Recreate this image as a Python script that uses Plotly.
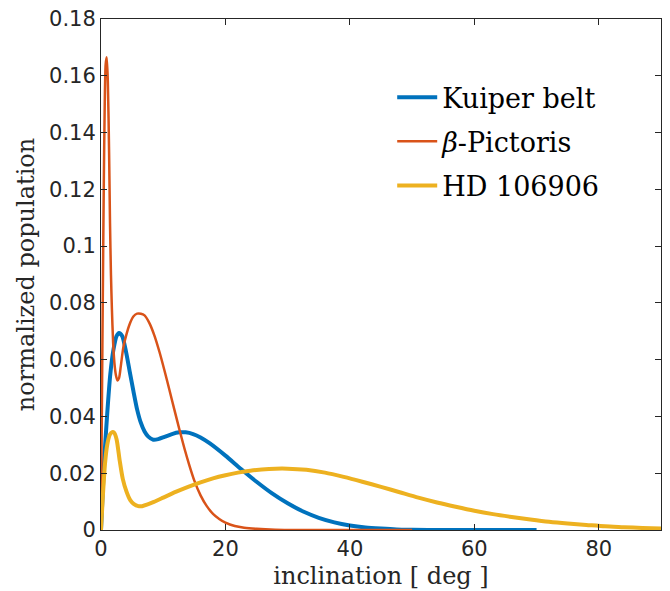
import plotly.graph_objects as go

# ---- data ----
kuiper_x = [0, 0.5, 1.0, 1.5, 2.0, 2.5, 2.9, 3.4, 4.0, 4.6, 5.2, 5.8, 6.4, 7.0, 7.6, 8.4, 9.2, 10.2, 11.4,
            12.6, 13.6, 14.8, 16.0, 17.5, 20.0, 22.5, 25.0, 27.5, 30.0, 32.5, 35.0, 37.5, 40.0, 42.5,
            45.0, 47.5, 50.0, 55.0, 60.0, 65.0, 70.0]
kuiper_y = [0, 0.024, 0.041, 0.055, 0.0635, 0.0683, 0.0694, 0.0683, 0.0630, 0.0560, 0.0490, 0.0425, 0.0378,
            0.0347, 0.0329, 0.0318, 0.0320, 0.0328, 0.0338, 0.0344, 0.0344, 0.0338, 0.0326, 0.0305, 0.0262,
            0.0215, 0.0170, 0.0129, 0.0094, 0.0065, 0.0043, 0.0027, 0.0016, 0.0009, 0.0005, 0.0002,
            0.0001, 0, 0, 0, 0]

pictoris_x = [0, 0.15, 0.3, 0.45, 0.6, 0.75, 0.92, 1.1, 1.3, 1.45, 1.6, 1.75, 1.95, 2.15, 2.4, 2.65, 2.9,
              3.2, 3.6, 4.1, 4.6, 5.2, 5.8, 6.4, 7.0, 7.8, 8.6, 9.4, 10.2, 11.0, 11.8, 12.6, 13.4, 14.2,
              15.0, 16.0, 17.0, 18.0, 19.0, 20.0, 21.5, 23.0, 25.0, 28.0, 32.0, 40.0, 50.0]
pictoris_y = [0.005, 0.045, 0.085, 0.122, 0.150, 0.164, 0.1665, 0.158, 0.133, 0.108, 0.090, 0.078, 0.066,
              0.059, 0.0545, 0.0527, 0.0535, 0.058, 0.0645, 0.069, 0.0725, 0.0752, 0.0762, 0.0762, 0.0756,
              0.0728, 0.0684, 0.0627, 0.0562, 0.0493, 0.0423, 0.0354, 0.0288, 0.0228, 0.0174, 0.0122,
              0.0084, 0.0057, 0.0039, 0.0026, 0.0014, 0.0008, 0.0004, 0.0001, 0, 0, 0]

hd_x = [0, 0.3, 0.65, 1.0, 1.4, 1.8, 2.1, 2.5, 3.0, 3.5, 4.1, 4.7, 5.3, 6.0, 6.6, 7.5, 8.5, 10.0, 12.0,
        14.0, 16.0, 18.0, 20.0, 22.0, 24.0, 27.0, 30.0, 33.0, 36.0, 39.0, 42.0, 45.0, 48.0, 51.0, 54.0,
        57.0, 60.0, 63.0, 66.0, 69.0, 72.0, 75.0, 78.0, 81.0, 84.0, 87.0, 90.0]
hd_y = [0, 0.012, 0.0235, 0.030, 0.0335, 0.0345, 0.0343, 0.032, 0.0245, 0.018, 0.0135, 0.0105, 0.0091,
        0.0084, 0.0084, 0.0090, 0.0099, 0.0114, 0.0134, 0.0152, 0.0168, 0.0182, 0.0193, 0.0202, 0.0209,
        0.0215, 0.0216, 0.0212, 0.0202, 0.0187, 0.0170, 0.0152, 0.0133, 0.0114, 0.0097, 0.0082, 0.0068,
        0.0056, 0.0046, 0.0037, 0.0029, 0.0023, 0.0018, 0.0013, 0.0010, 0.0007, 0.0005]

series_names = ["Kuiper belt", "<i>β</i>-Pictoris", "HD 106906"]

x_tickvals = [0, 20, 40, 60, 80]
x_ticktext = ["0", "20", "40", "60", "80"]
y_tickvals = [0, 0.02, 0.04, 0.06, 0.08, 0.1, 0.12, 0.14, 0.16, 0.18]
y_ticktext = ["0", "0.02", "0.04", "0.06", "0.08", "0.1", "0.12", "0.14", "0.16", "0.18"]

x_title = "inclination [ deg ]"
y_title = "normalized population"

# ---- figure ----
fig = go.Figure()
fig.add_trace(go.Scatter(x=kuiper_x, y=kuiper_y, mode="lines", name=series_names[0], legendgroup="a",
                         line=dict(color="#0072BD", width=4, shape="spline", smoothing=0.7)))
fig.add_trace(go.Scatter(x=pictoris_x, y=pictoris_y, mode="lines", name=series_names[1], legendgroup="b",
                         line=dict(color="#D95319", width=2.5, shape="spline", smoothing=0.7)))
fig.add_trace(go.Scatter(x=hd_x, y=hd_y, mode="lines", name=series_names[2], legendgroup="c",
                         line=dict(color="#EDB120", width=4, shape="spline", smoothing=0.7)))

axis_common = dict(showline=True, linecolor="#262626", linewidth=1, mirror="allticks",
                   ticks="inside", ticklen=6, tickcolor="#262626", tickwidth=1,
                   showgrid=False, zeroline=False, automargin=False, ticklabeloverflow="allow",
                   tickfont=dict(family="DejaVu Sans", size=21, color="#262626"))

# page body has an 8px margin, so the figure is sized to the visible area
fig.update_layout(
    template="none",
    width=662, height=583,
    margin=dict(l=93, r=9, t=11, b=61),
    paper_bgcolor="white", plot_bgcolor="white",
    xaxis=dict(range=[0, 90], tickvals=x_tickvals, ticktext=x_ticktext, ticklabelstandoff=0,
               title=dict(text=x_title, font=dict(family="DejaVu Serif", size=24, color="#262626"), standoff=6),
               **axis_common),
    yaxis=dict(range=[0, 0.18], tickvals=y_tickvals, ticktext=y_ticktext, ticklabelstandoff=0,
               title=dict(text=y_title, font=dict(family="DejaVu Serif", size=24, color="#262626"), standoff=7),
               **axis_common),
    legend=dict(x=0.52, y=0.894, xanchor="left", yanchor="top", bgcolor="rgba(0,0,0,0)",
                font=dict(family="DejaVu Serif", size=27, color="#000000"),
                tracegroupgap=6, itemwidth=40),
    showlegend=True,
)

fig.write_html("out.html")
